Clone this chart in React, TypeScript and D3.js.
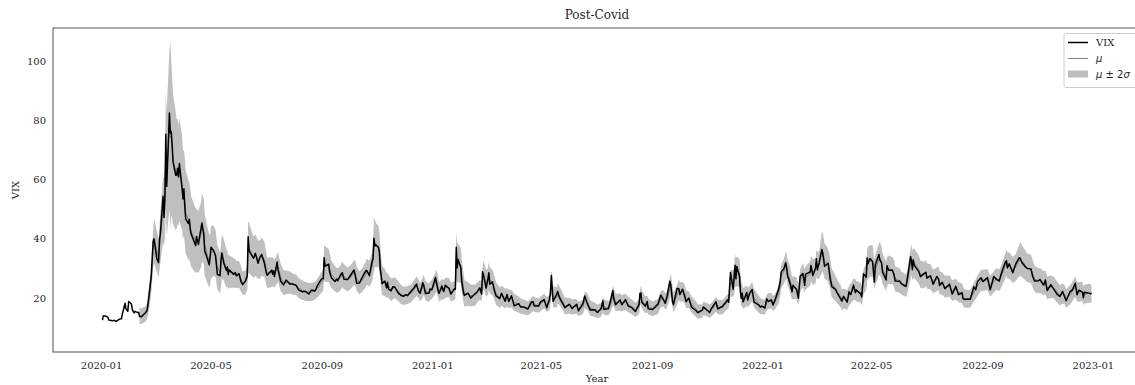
import React from "react";
import * as d3 from "d3";

// Daily VIX closes (sampled trading days), 2020-01-02 .. 2022-12-30
const dates = [
  "2020-01-02","2020-01-03","2020-01-06","2020-01-08","2020-01-09","2020-01-13","2020-01-15","2020-01-17","2020-01-21","2020-01-23","2020-01-24","2020-01-27","2020-01-28","2020-01-30","2020-01-31",
  "2020-02-03","2020-02-04","2020-02-06","2020-02-07","2020-02-10","2020-02-11",
  "2020-02-12","2020-02-14","2020-02-18","2020-02-20","2020-02-21","2020-02-24","2020-02-25","2020-02-27","2020-02-28",
  "2020-03-02","2020-03-04","2020-03-05","2020-03-06","2020-03-09","2020-03-10","2020-03-11","2020-03-12","2020-03-13","2020-03-16","2020-03-17","2020-03-18","2020-03-19","2020-03-20","2020-03-23","2020-03-24","2020-03-25","2020-03-26","2020-03-27","2020-03-30","2020-03-31",
  "2020-04-01","2020-04-02","2020-04-03","2020-04-06","2020-04-07","2020-04-08","2020-04-09","2020-04-14","2020-04-15","2020-04-17","2020-04-20","2020-04-21","2020-04-23","2020-04-24","2020-04-27","2020-04-29","2020-04-30",
  "2020-05-01","2020-05-04","2020-05-06","2020-05-08","2020-05-11","2020-05-12","2020-05-13","2020-05-15","2020-05-18","2020-05-19","2020-05-20","2020-05-21","2020-05-26","2020-05-28","2020-05-29",
  "2020-06-01","2020-06-03","2020-06-05","2020-06-08","2020-06-10","2020-06-11","2020-06-12","2020-06-15","2020-06-17","2020-06-19","2020-06-22","2020-06-24","2020-06-26","2020-06-29",
  "2020-07-01","2020-07-02","2020-07-07","2020-07-08","2020-07-09","2020-07-10","2020-07-13","2020-07-14","2020-07-17","2020-07-20","2020-07-23","2020-07-27","2020-07-30",
  "2020-08-03","2020-08-06","2020-08-10","2020-08-13","2020-08-17","2020-08-20","2020-08-24","2020-08-27","2020-08-31",
  "2020-09-02","2020-09-03","2020-09-04","2020-09-08","2020-09-09","2020-09-11","2020-09-15","2020-09-17","2020-09-18","2020-09-21","2020-09-23","2020-09-25","2020-09-29",
  "2020-10-02","2020-10-06","2020-10-07","2020-10-09","2020-10-12","2020-10-15","2020-10-19","2020-10-20","2020-10-23","2020-10-26","2020-10-27","2020-10-28","2020-10-29","2020-10-30",
  "2020-11-02","2020-11-03","2020-11-04","2020-11-05","2020-11-06","2020-11-09","2020-11-11","2020-11-12","2020-11-13","2020-11-16","2020-11-18","2020-11-20","2020-11-24","2020-11-27","2020-11-30",
  "2020-12-02","2020-12-04","2020-12-08","2020-12-11","2020-12-14","2020-12-16","2020-12-18","2020-12-21","2020-12-22","2020-12-24","2020-12-28","2020-12-29","2020-12-31",
  "2021-01-04","2021-01-05","2021-01-07","2021-01-08","2021-01-11","2021-01-13","2021-01-15","2021-01-19","2021-01-21","2021-01-25","2021-01-26","2021-01-27","2021-01-28","2021-01-29",
  "2021-02-01","2021-02-02","2021-02-04","2021-02-05","2021-02-09","2021-02-12","2021-02-17","2021-02-19","2021-02-22","2021-02-24","2021-02-25","2021-02-26",
  "2021-03-01","2021-03-03","2021-03-04","2021-03-05","2021-03-08","2021-03-10","2021-03-12","2021-03-16","2021-03-18","2021-03-22","2021-03-24","2021-03-26","2021-03-29",
  "2021-04-01","2021-04-06","2021-04-08","2021-04-12","2021-04-16","2021-04-20","2021-04-22","2021-04-23","2021-04-28","2021-04-30",
  "2021-05-04","2021-05-07","2021-05-10","2021-05-11","2021-05-12","2021-05-13","2021-05-14","2021-05-18","2021-05-19","2021-05-21","2021-05-24","2021-05-27",
  "2021-06-01","2021-06-04","2021-06-09","2021-06-11","2021-06-16","2021-06-18","2021-06-21","2021-06-24","2021-06-29",
  "2021-07-02","2021-07-06","2021-07-08","2021-07-09","2021-07-14","2021-07-16","2021-07-19","2021-07-20","2021-07-22","2021-07-27","2021-07-29",
  "2021-08-02","2021-08-05","2021-08-09","2021-08-13","2021-08-17","2021-08-18","2021-08-19","2021-08-20","2021-08-24","2021-08-26","2021-08-27",
  "2021-09-01","2021-09-07","2021-09-10","2021-09-13","2021-09-15","2021-09-17","2021-09-20","2021-09-21","2021-09-23","2021-09-24","2021-09-28","2021-09-30",
  "2021-10-01","2021-10-04","2021-10-06","2021-10-08","2021-10-11","2021-10-14","2021-10-19","2021-10-21","2021-10-26","2021-10-27",
  "2021-11-03","2021-11-05","2021-11-10","2021-11-12","2021-11-17","2021-11-19","2021-11-23","2021-11-24","2021-11-26","2021-11-29","2021-11-30",
  "2021-12-01","2021-12-02","2021-12-03","2021-12-06","2021-12-07","2021-12-08","2021-12-09","2021-12-10","2021-12-14","2021-12-15","2021-12-17","2021-12-20","2021-12-22","2021-12-27","2021-12-29","2021-12-31",
  "2022-01-03","2022-01-05","2022-01-07","2022-01-10","2022-01-12","2022-01-14","2022-01-18","2022-01-20","2022-01-21","2022-01-24","2022-01-26","2022-01-27","2022-01-28","2022-01-31",
  "2022-02-02","2022-02-03","2022-02-07","2022-02-09","2022-02-10","2022-02-11","2022-02-14","2022-02-16","2022-02-17","2022-02-22","2022-02-23","2022-02-25","2022-02-28",
  "2022-03-01","2022-03-02","2022-03-04","2022-03-07","2022-03-08","2022-03-10","2022-03-14","2022-03-16","2022-03-18","2022-03-22","2022-03-24","2022-03-28","2022-03-29","2022-03-31",
  "2022-04-04","2022-04-06","2022-04-08","2022-04-11","2022-04-13","2022-04-14","2022-04-19","2022-04-20","2022-04-22","2022-04-25","2022-04-26","2022-04-27","2022-04-29",
  "2022-05-02","2022-05-04","2022-05-05","2022-05-09","2022-05-10","2022-05-12","2022-05-13","2022-05-17","2022-05-18","2022-05-20","2022-05-24","2022-05-26","2022-05-27",
  "2022-06-01","2022-06-03","2022-06-07","2022-06-08","2022-06-10","2022-06-13","2022-06-14","2022-06-15","2022-06-16","2022-06-17","2022-06-22","2022-06-24","2022-06-28","2022-06-30",
  "2022-07-01","2022-07-05","2022-07-08","2022-07-12","2022-07-14","2022-07-15","2022-07-18","2022-07-21","2022-07-26","2022-07-29",
  "2022-08-02","2022-08-05","2022-08-09","2022-08-10","2022-08-12","2022-08-16","2022-08-18","2022-08-22","2022-08-24","2022-08-26","2022-08-30",
  "2022-09-01","2022-09-06","2022-09-09","2022-09-13","2022-09-16","2022-09-19","2022-09-21","2022-09-23","2022-09-26","2022-09-27","2022-09-28","2022-09-30",
  "2022-10-04","2022-10-07","2022-10-11","2022-10-12","2022-10-14","2022-10-18","2022-10-20","2022-10-24","2022-10-26","2022-10-28",
  "2022-11-01","2022-11-03","2022-11-07","2022-11-09","2022-11-11","2022-11-15","2022-11-18","2022-11-22","2022-11-25","2022-11-28","2022-11-30",
  "2022-12-02","2022-12-06","2022-12-09","2022-12-12","2022-12-14","2022-12-16","2022-12-20","2022-12-21","2022-12-22","2022-12-27","2022-12-29","2022-12-30",
];

const vix = [
  12.47,14.02,13.85,13.45,12.54,12.32,12.42,12.10,12.85,12.98,14.56,18.23,16.28,15.49,18.84,
  17.97,16.05,14.96,15.47,15.04,15.18,
  13.74,13.68,14.83,15.56,17.08,25.03,27.85,39.16,40.11,
  33.42,31.99,39.62,41.94,54.46,47.30,53.90,75.47,57.83,82.69,75.91,76.45,72.00,66.04,61.59,61.67,63.95,61.00,65.54,57.08,53.54,
  57.06,50.91,46.80,45.24,46.70,43.35,41.67,37.76,40.84,38.15,43.83,45.41,41.38,35.93,33.29,31.23,34.15,
  37.19,35.97,34.12,27.98,27.57,33.04,35.28,31.89,29.30,30.53,27.99,29.53,28.01,28.59,27.51,
  28.23,25.66,24.52,25.81,27.57,40.79,36.09,34.40,33.47,35.12,31.77,33.84,34.73,31.78,
  28.62,27.68,29.43,28.08,29.26,27.29,32.19,29.52,25.68,24.46,26.08,24.74,24.76,
  24.28,22.65,22.13,22.28,21.35,22.72,22.37,24.47,26.41,
  26.57,33.60,30.75,31.46,28.81,26.87,25.59,26.46,25.83,27.78,28.58,26.38,26.27,
  27.63,29.48,28.06,25.00,25.07,26.97,29.18,29.35,27.55,32.46,33.35,40.28,37.59,38.02,
  37.13,35.55,29.57,27.58,24.86,25.75,23.45,25.35,23.10,22.45,23.84,23.70,21.64,20.84,20.57,
  21.17,20.79,22.27,23.31,24.72,22.50,21.57,25.16,24.23,21.53,21.70,23.08,22.75,
  26.97,25.34,22.37,21.56,24.08,22.21,24.34,23.24,21.32,23.19,23.02,37.21,30.21,33.09,
  30.24,25.56,21.77,20.87,21.63,19.97,21.50,22.05,23.45,21.34,28.89,27.95,
  23.35,26.67,28.57,24.66,25.47,22.56,20.69,19.79,21.58,18.88,21.20,18.86,20.74,
  17.33,18.12,16.95,16.91,16.25,18.68,18.71,17.33,17.28,18.61,
  19.48,16.69,19.66,21.84,27.59,23.13,18.81,21.34,22.18,20.15,18.40,16.74,
  17.90,16.42,17.89,15.65,18.15,20.70,17.89,15.97,16.02,
  15.07,16.44,19.00,16.18,16.33,18.45,22.50,19.73,17.69,19.36,17.70,
  19.46,17.28,16.72,15.45,17.91,21.57,21.67,18.56,17.22,18.84,16.39,
  16.11,18.03,20.95,19.37,18.18,20.81,25.71,24.36,18.63,17.75,23.25,23.14,
  21.15,22.96,21.00,18.77,20.00,16.86,15.70,15.01,15.98,16.98,
  15.10,16.48,18.73,16.29,17.11,17.91,19.38,18.58,28.62,22.96,27.19,
  31.12,26.50,30.67,27.18,21.89,19.90,21.58,18.69,21.89,19.29,21.57,22.87,18.63,17.68,16.95,17.22,
  16.60,19.73,18.76,19.40,17.62,19.19,22.79,25.59,28.85,29.90,31.96,30.49,27.66,24.83,
  22.09,24.35,22.86,19.96,23.91,27.36,28.33,24.29,28.11,28.81,31.02,27.59,30.15,
  33.32,29.57,31.98,36.45,35.13,30.75,31.77,26.67,23.87,22.94,21.67,19.63,18.90,20.56,
  18.57,22.10,21.16,24.37,21.82,22.70,21.37,20.32,28.21,27.02,33.52,31.60,33.40,
  32.34,25.42,31.20,34.75,32.99,31.77,28.87,26.10,30.96,29.43,29.45,27.50,25.72,
  25.69,24.79,24.02,23.96,27.75,34.02,32.69,29.62,32.95,31.13,28.95,27.23,28.36,28.71,
  26.70,27.54,24.64,27.29,26.40,24.23,25.30,23.11,24.69,21.33,
  23.93,21.15,21.77,19.74,19.53,19.69,19.56,23.80,22.82,25.56,26.83,
  25.56,26.91,22.79,27.27,26.30,25.76,27.99,29.92,32.26,32.60,30.18,31.62,
  28.55,31.36,33.63,33.57,32.02,30.50,29.98,29.85,27.28,25.75,
  25.81,26.27,24.35,26.09,22.52,24.54,23.12,21.24,20.50,22.21,20.58,
  19.06,22.01,22.83,25.00,21.14,22.62,21.97,20.07,21.97,21.65,21.44,21.67,
];

// Model output begins on this date; mu / twoSigma line up with dates from here on
const modelStart = "2020-02-12";

const mu = [
  14.0,13.8,14.5,15.3,16.6,23.5,27.0,36.5,39.5,
  36.0,33.5,37.0,40.5,50.0,49.0,52.0,70.0,62.0,77.0,75.0,74.0,71.0,67.0,63.0,62.0,63.0,61.5,63.5,59.0,55.0,
  55.5,53.0,49.0,46.5,46.0,44.5,42.5,39.5,39.5,39.0,41.5,44.0,42.5,38.0,34.5,32.5,33.0,
  35.5,36.0,35.0,30.5,28.5,31.0,34.0,33.0,30.0,30.0,28.8,29.0,28.5,28.3,28.0,
  28.0,26.5,25.0,25.3,26.8,37.0,37.0,35.0,33.8,34.5,33.0,33.0,34.0,33.0,
  30.0,28.5,28.8,28.8,28.8,28.2,30.0,30.5,27.0,25.2,25.3,25.3,24.7,
  24.5,23.3,22.6,22.3,22.0,22.0,22.5,23.5,25.3,
  26.3,32.0,31.5,31.0,30.0,28.0,26.5,26.0,26.0,26.8,28.0,27.2,26.3,
  27.0,28.5,28.7,26.5,25.2,26.0,28.0,29.0,28.2,30.5,33.0,38.0,38.5,38.0,
  37.5,36.0,32.0,28.5,26.0,25.3,24.2,24.5,24.0,22.8,23.2,23.6,22.3,21.2,20.7,
  20.9,21.0,21.6,22.8,24.0,23.2,22.0,23.5,24.5,22.5,21.7,22.5,22.9,
  25.0,26.0,23.5,22.0,23.0,22.8,23.5,23.6,22.0,22.5,23.1,34.0,32.0,32.0,
  31.0,27.5,23.5,21.5,21.4,20.8,21.0,21.8,22.8,22.2,26.0,27.8,
  25.0,25.5,27.5,26.0,25.2,23.5,21.5,20.1,20.8,19.8,20.2,19.7,19.8,
  18.5,17.8,17.3,16.9,16.5,17.5,18.2,17.8,17.4,18.0,
  19.0,17.8,18.5,20.5,25.0,24.5,20.5,20.2,21.5,20.8,19.2,17.3,
  17.4,17.0,17.2,16.3,17.0,19.3,18.7,16.6,16.0,
  15.5,15.9,17.8,17.0,16.5,17.5,20.5,20.5,18.5,18.6,18.2,
  18.7,17.8,17.0,16.0,17.0,19.8,21.2,19.5,17.7,18.0,17.2,
  16.3,17.2,19.7,19.8,18.7,19.6,23.2,24.5,20.5,18.5,21.0,22.8,
  22.0,22.2,21.7,19.5,19.5,17.8,16.2,15.4,15.6,16.5,
  15.6,16.0,17.8,17.0,16.8,17.5,18.8,18.9,25.0,25.0,25.5,
  29.5,28.5,29.0,28.5,24.0,21.0,21.0,19.8,20.8,20.2,20.8,22.2,20.0,18.0,17.3,17.1,
  16.9,18.5,19.0,19.1,18.2,18.7,21.0,24.2,27.3,29.0,30.8,31.0,28.8,26.0,
  23.2,23.5,23.3,21.2,22.5,25.8,27.8,25.8,26.8,28.3,30.0,28.8,29.2,
  31.8,31.0,31.2,35.5,35.5,32.5,31.2,28.5,25.0,23.3,22.2,20.5,19.3,19.8,
  19.3,20.8,21.5,23.0,22.8,22.3,21.8,20.8,25.5,27.3,31.0,32.0,32.5,
  32.6,28.0,29.5,33.0,33.5,32.0,30.0,27.3,29.0,29.6,29.2,28.2,26.5,
  25.9,25.0,24.4,24.0,26.2,31.5,33.0,31.0,31.8,31.8,29.8,28.0,27.8,28.5,
  27.5,27.2,25.6,26.3,26.7,25.2,24.9,23.8,24.0,22.5,
  23.0,22.0,21.5,20.5,19.8,19.7,19.8,22.0,23.0,24.2,26.0,
  26.0,26.2,24.0,25.5,26.5,26.0,27.2,28.8,31.0,32.2,31.0,31.0,
  29.5,30.3,32.5,33.3,32.5,31.0,30.2,29.9,28.2,26.5,
  25.8,26.0,25.0,25.3,23.5,23.8,23.6,22.0,20.9,21.5,21.2,
  19.8,21.0,22.3,23.8,22.2,22.0,22.2,20.8,21.3,21.6,21.5,21.6,
];

const twoSigma = [
  2.8,2.6,2.6,2.7,3.0,4.5,5.0,6.5,7.5,
  7.0,6.5,7.5,8.5,11.0,11.5,12.0,20.0,21.0,27.0,32.0,26.0,24.0,22.0,20.0,18.5,18.0,17.0,17.5,16.0,15.0,
  14.5,14.5,14.0,13.5,13.0,12.5,12.0,11.0,10.5,10.5,11.0,11.5,11.0,10.5,9.5,9.0,8.5,
  9.0,8.5,8.0,7.5,7.0,7.0,7.5,7.0,6.5,6.0,5.8,5.5,5.0,4.8,4.6,
  4.5,4.3,4.0,4.0,4.2,9.0,8.5,7.5,7.0,7.0,6.5,6.5,6.5,6.0,
  5.5,5.2,5.0,5.0,4.8,4.6,5.0,5.0,4.6,4.2,4.0,3.8,3.6,
  3.5,3.4,3.3,3.2,3.1,3.1,3.0,3.2,3.5,
  3.7,6.0,6.0,5.6,5.3,4.6,4.3,4.2,4.1,4.2,4.3,4.2,4.0,
  4.0,4.3,4.3,4.1,3.9,4.0,4.3,4.4,4.3,5.0,5.5,9.0,8.0,7.5,
  7.0,6.5,6.0,5.5,5.0,4.6,4.3,4.1,4.0,3.8,3.6,3.5,3.4,3.2,3.1,
  3.0,3.0,3.0,3.1,3.3,3.2,3.1,3.4,3.4,3.3,3.1,3.2,3.2,
  3.6,3.7,3.5,3.3,3.4,3.3,3.4,3.3,3.2,3.2,3.2,8.0,7.0,6.5,
  6.0,5.5,5.0,4.5,4.0,3.7,3.5,3.4,3.4,3.3,4.5,4.8,
  4.6,4.5,4.6,4.5,4.3,4.1,3.8,3.5,3.4,3.3,3.2,3.1,3.0,
  2.9,2.7,2.6,2.5,2.4,2.5,2.6,2.5,2.4,2.4,
  2.5,2.5,2.6,2.9,4.0,4.0,3.6,3.4,3.4,3.2,3.0,2.8,
  2.7,2.6,2.5,2.4,2.4,2.8,2.8,2.6,2.4,
  2.3,2.3,2.6,2.6,2.4,2.5,3.2,3.2,3.0,2.9,2.8,
  2.7,2.6,2.5,2.4,2.4,3.0,3.2,3.1,2.9,2.8,2.7,
  2.5,2.5,2.8,2.8,2.7,2.8,3.6,3.8,3.6,3.3,3.4,3.4,
  3.3,3.3,3.2,3.0,2.9,2.8,2.6,2.4,2.3,2.3,
  2.3,2.3,2.5,2.5,2.4,2.4,2.5,2.5,4.5,4.6,4.5,
  5.5,5.0,5.0,4.8,4.5,4.0,3.8,3.5,3.4,3.3,3.2,3.3,3.1,2.9,2.7,2.6,
  2.5,2.7,2.7,2.7,2.6,2.6,3.0,3.5,4.0,4.3,4.6,4.6,4.5,4.3,
  4.0,3.8,3.7,3.5,3.5,3.9,4.1,4.0,4.0,4.1,4.3,4.3,4.3,
  4.6,4.6,4.6,7.0,6.5,6.0,5.5,5.2,4.8,4.3,4.0,3.7,3.5,3.4,
  3.3,3.4,3.4,3.6,3.6,3.5,3.4,3.3,4.3,4.5,5.3,5.4,5.4,
  5.3,5.0,5.0,5.5,5.6,5.4,5.2,4.9,4.9,4.8,4.6,4.5,4.3,
  4.1,3.9,3.8,3.7,3.9,5.0,5.2,5.0,5.0,5.0,4.8,4.6,4.5,4.4,
  4.3,4.2,4.0,4.0,4.0,3.9,3.8,3.7,3.6,3.5,
  3.5,3.4,3.3,3.2,3.1,3.0,3.0,3.2,3.3,3.4,3.6,
  3.6,3.6,3.5,3.6,3.7,3.7,3.8,4.0,4.3,4.5,4.5,4.5,
  4.4,4.5,5.2,5.8,5.4,5.0,4.9,4.8,4.7,4.5,
  4.3,4.2,4.1,4.0,3.9,3.8,3.7,3.6,3.4,3.4,3.3,
  3.2,3.2,3.3,3.5,3.4,3.3,3.3,3.2,3.2,3.2,3.1,3.1,
];

const yTicks = [20, 40, 60, 80, 100];
const yLimits = [1.7, 111.5];

const SERIF = "'DejaVu Serif', serif";
const SANS = "'DejaVu Sans', sans-serif";
const INK = "#262626";

export default function App() {
  const W = 1135;
  const H = 385;
  const m = { left: 53, right: 1141, top: 28, bottom: 352 };

  const parse = d3.timeParse("%Y-%m-%d");
  const t = dates.map((s) => parse(s) as Date);
  const [t0, t1] = d3.extent(t) as [Date, Date];
  const pad = (+t1 - +t0) * 0.05;

  const x = d3
    .scaleTime()
    .domain([new Date(+t0 - pad), new Date(+t1 + pad)])
    .range([m.left, m.right]);
  const y = d3.scaleLinear().domain(yLimits).range([m.bottom, m.top]);

  const vixPts = t.map((d, i) => ({ d, v: vix[i] }));
  const off = dates.indexOf(modelStart);
  const modelPts = mu.map((v, i) => ({ d: t[off + i], mu: v, s: twoSigma[i] }));

  const vixLine = d3
    .line<{ d: Date; v: number }>()
    .x((p) => x(p.d))
    .y((p) => y(p.v))(vixPts) as string;
  const muLine = d3
    .line<{ d: Date; mu: number; s: number }>()
    .x((p) => x(p.d))
    .y((p) => y(p.mu))(modelPts) as string;
  const band = d3
    .area<{ d: Date; mu: number; s: number }>()
    .x((p) => x(p.d))
    .y0((p) => y(p.mu - p.s))
    .y1((p) => y(p.mu + p.s))(modelPts) as string;

  const xTicks = d3.timeMonth.every(4)!.range(new Date(2020, 0, 1), new Date(2023, 0, 2));
  const fmt = d3.timeFormat("%Y-%m");

  const lgX = 1064;
  const lgY = 33.5;

  return (
    <svg
      width={W}
      height={H}
      style={{ position: "absolute", left: 0, top: 0, background: "#fff" }}
    >
      <defs>
        <clipPath id="plot">
          <rect x={m.left} y={m.top} width={m.right - m.left} height={m.bottom - m.top} />
        </clipPath>
      </defs>
      <rect x={0} y={0} width={W} height={H} fill="#fff" />

      <g clipPath="url(#plot)">
        <path d={band} fill="#808080" fillOpacity={0.5} stroke="none" />
        <path d={muLine} fill="none" stroke="#808080" strokeWidth={1} />
        <path d={vixLine} fill="none" stroke="#000" strokeWidth={1.5} strokeLinejoin="round" />
      </g>

      <rect
        x={m.left}
        y={m.top}
        width={m.right - m.left}
        height={m.bottom - m.top}
        fill="none"
        stroke={INK}
        strokeWidth={1}
        opacity={0.8}
      />

      {yTicks.map((v) => (
        <text
          key={v}
          x={46}
          y={y(v)}
          dy="0.35em"
          textAnchor="end"
          fontFamily={SERIF}
          fontSize={10}
          fill={INK}
        >
          {v}
        </text>
      ))}
      {xTicks.map((d) => (
        <text
          key={+d}
          x={x(d)}
          y={369}
          textAnchor="middle"
          fontFamily={SERIF}
          fontSize={10}
          fill={INK}
        >
          {fmt(d)}
        </text>
      ))}

      <text x={(m.left + m.right) / 2} y={19} textAnchor="middle" fontFamily={SERIF} fontSize={12} fill={INK}>
        Post-Covid
      </text>
      <text x={(m.left + m.right) / 2} y={382} textAnchor="middle" fontFamily={SERIF} fontSize={10} fill={INK}>
        Year
      </text>
      <text
        transform={`translate(19,${(m.top + m.bottom) / 2}) rotate(-90)`}
        textAnchor="middle"
        fontFamily={SERIF}
        fontSize={10}
        fill={INK}
      >
        VIX
      </text>

      <g>
        <rect x={lgX} y={lgY} width={80} height={54} rx={2} fill="#fff" fillOpacity={0.8} stroke="#cccccc" />
        <line x1={lgX + 4} x2={lgX + 24} y1={42.5} y2={42.5} stroke="#000" strokeWidth={1.5} />
        <text x={lgX + 32} y={46} fontFamily={SERIF} fontSize={10} fill={INK}>VIX</text>
        <line x1={lgX + 4} x2={lgX + 24} y1={58.5} y2={58.5} stroke="#808080" strokeWidth={1} />
        <text x={lgX + 32} y={62} fontFamily={SANS} fontSize={10} fontStyle="italic" fill={INK}>μ</text>
        <rect x={lgX + 4} y={70.5} width={20} height={7} fill="#808080" fillOpacity={0.5} />
        <text x={lgX + 32} y={78} fontFamily={SANS} fontSize={10} fill={INK}>
          <tspan fontStyle="italic">μ</tspan>
          <tspan> ± 2</tspan>
          <tspan fontStyle="italic">σ</tspan>
        </text>
      </g>
    </svg>
  );
}
